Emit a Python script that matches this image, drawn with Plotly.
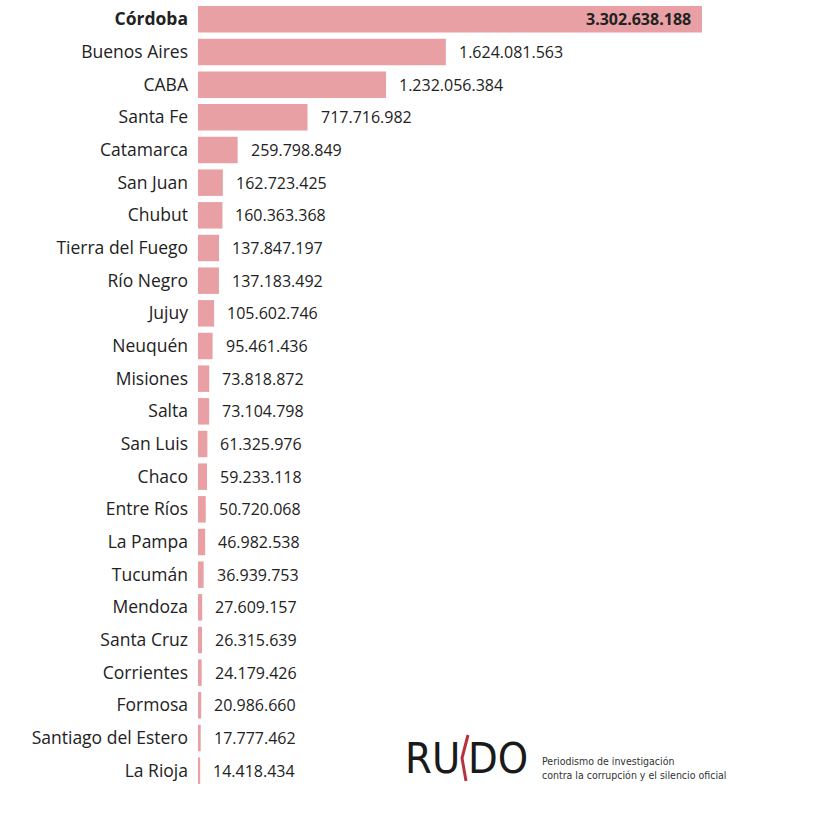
import plotly.graph_objects as go

provincias = ["Córdoba", "Buenos Aires", "CABA", "Santa Fe", "Catamarca", "San Juan", "Chubut",
              "Tierra del Fuego", "Río Negro", "Jujuy", "Neuquén", "Misiones", "Salta", "San Luis",
              "Chaco", "Entre Ríos", "La Pampa", "Tucumán", "Mendoza", "Santa Cruz", "Corrientes",
              "Formosa", "Santiago del Estero", "La Rioja"]
montos = [3302638188, 1624081563, 1232056384, 717716982, 259798849, 162723425, 160363368,
          137847197, 137183492, 105602746, 95461436, 73818872, 73104798, 61325976,
          59233118, 50720068, 46982538, 36939753, 27609157, 26315639, 24179426,
          20986660, 17777462, 14418434]

BAR = "#e8a0a4"
TXT = "#222222"
FONT = "Open Sans"
LOGO = "Liberation Sans Narrow, DejaVu Sans Condensed, Arial Narrow, sans-serif"

W, H = 821, 817
ML, MR, MT, MB = 198, 119, 3, 30
PW, PH = W - ML - MR, H - MT - MB


def px(x):
    return (x - ML) / PW


def py(y):
    return (H - MB - y) / PH


def fmt(v):
    return f"{v:,}".replace(",", ".")


ticktext = [f"<b>{p}</b>" if i == 0 else p for i, p in enumerate(provincias)]

fig = go.Figure(go.Bar(
    x=montos, y=provincias, orientation="h",
    marker=dict(color=BAR, line=dict(width=0)),
    hoverinfo="skip",
))

for i, (p, v) in enumerate(zip(provincias, montos)):
    if i == 0:
        fig.add_annotation(x=v, y=p, xref="x", yref="y", text=f"<b>{fmt(v)}</b>",
                           showarrow=False, xanchor="right", xshift=-9,
                           font=dict(family=FONT, size=16, color=TXT))
    else:
        fig.add_annotation(x=v, y=p, xref="x", yref="y", text=fmt(v),
                           showarrow=False, xanchor="left", xshift=11,
                           font=dict(family=FONT, size=16, color=TXT))

# Logo RUIDO
for parte, cx in [("RU", 432), ("DO", 498)]:
    fig.add_annotation(x=px(cx), y=py(758), xref="paper", yref="paper", text=parte,
                       showarrow=False, xanchor="center", yanchor="middle",
                       font=dict(family=LOGO, size=43, color="#1a1a1a"))
fig.add_annotation(x=px(540), y=py(768), xref="paper", yref="paper",
                   text="Periodismo de investigación<br>contra la corrupción y el silencio oficial",
                   showarrow=False, xanchor="left", yanchor="middle", align="left",
                   font=dict(family=LOGO, size=10.5, color="#333333"))

fig.update_layout(
    width=W, height=H,
    margin=dict(l=ML, r=MR, t=MT, b=MB),
    paper_bgcolor="white", plot_bgcolor="white",
    bargap=0.19,
    showlegend=False,
    xaxis=dict(range=[0, max(montos)], visible=False, fixedrange=True),
    yaxis=dict(categoryorder="array", categoryarray=provincias, autorange="reversed",
               tickmode="array", tickvals=provincias, ticktext=ticktext,
               ticks="", ticklabelstandoff=9, showline=False, showgrid=False,
               tickfont=dict(family=FONT, size=17.5, color=TXT)),
    shapes=[dict(type="path", xref="paper", yref="paper",
                 path=f"M {px(468)} {py(735)} L {px(462)} {py(758)} L {px(466)} {py(781)}",
                 line=dict(color="#b5333f", width=3))],
)

fig.write_html("out.html")
